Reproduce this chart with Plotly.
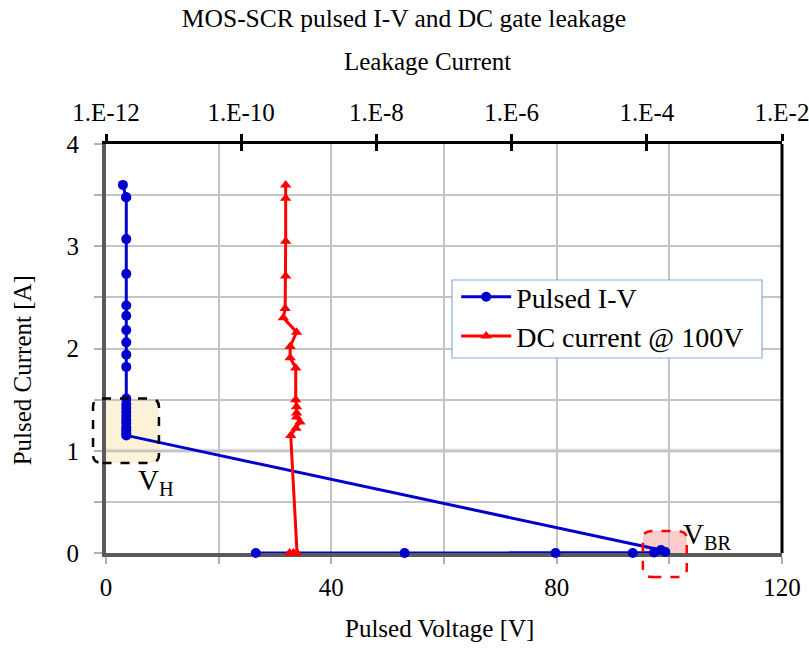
import plotly.graph_objects as go

# ---- data ----------------------------------------------------------------
# Pulsed I-V sweep (voltage in V, current in A)
pulsed_v = [26.6, 53.0, 79.8, 93.5, 97.3, 99.3, 98.5,
            3.6, 3.6, 3.6, 3.6, 3.6, 3.6, 3.6, 3.6, 3.6, 3.6, 3.6,
            3.6, 3.6, 3.6, 3.6, 3.6, 3.6, 3.6, 3.6, 3.6, 3.55, 3.0]
pulsed_i = [0.0, 0.0, 0.0, 0.0, 0.005, 0.01, 0.03,
            1.15, 1.17, 1.20, 1.23, 1.27, 1.30, 1.34, 1.38, 1.42, 1.46, 1.51,
            1.82, 1.94, 2.06, 2.18, 2.32, 2.42, 2.73, 3.07, 3.48, 3.48, 3.60]

# DC gate leakage at 100 V (leakage in A) after each pulse (pulsed current in A)
dc_leak = [5.2e-10, 5.9e-10, 6.7e-10, 5.4e-10, 6.45e-10, 7.4e-10, 6.6e-10,
           6.6e-10, 6.6e-10, 6.4e-10, 6.4e-10, 5.3e-10, 5.3e-10, 6.6e-10,
           4.2e-10, 4.47e-10, 4.55e-10, 4.55e-10, 4.55e-10, 4.55e-10]
dc_i = [0.0, 0.0, 0.0, 1.15, 1.22, 1.28, 1.33,
        1.37, 1.43, 1.50, 1.81, 1.91, 2.02, 2.16,
        2.30, 2.39, 2.71, 3.05, 3.47, 3.60]

volt_ticks = [0, 40, 80, 120]
volt_minor = [20, 60, 100]
amp_ticks = [0, 1, 2, 3, 4]
amp_minor = [0.5, 1.5, 2.5, 3.5]
leak_ticks = [1e-12, 1e-10, 1e-8, 1e-6, 1e-4, 1e-2]
leak_labels = ["1.E-12", "1.E-10", "1.E-8", "1.E-6", "1.E-4", "1.E-2"]

# callout boxes: (V0, V1, I0, I1)
vh_box = (-2.3, 9.4, 0.88, 1.51)
vbr_box = (95.3, 103.1, -0.235, 0.215)

X_RANGE = [0, 120]
Y_RANGE = [0, 4]
LEAK_RANGE = [-12, -2]

FONT = "Liberation Serif"
BLUE = "#0000CD"
RED = "#FF0000"
GRID = "#c4c4c4"
AXIS_GRAY = "#595959"
TICK_GRAY = "#b0b0b0"

fig = go.Figure()

fig.add_trace(go.Scatter(
    x=pulsed_v, y=pulsed_i, mode="lines+markers", name="Pulsed I-V",
    line=dict(color=BLUE, width=3),
    marker=dict(symbol="circle", size=10, color=BLUE),
    cliponaxis=False, legendgroup="a",
))
fig.add_trace(go.Scatter(
    x=dc_leak, y=dc_i, mode="lines+markers", name="DC current @ 100V",
    xaxis="x2", line=dict(color=RED, width=3),
    marker=dict(symbol="triangle-up", size=10, color=RED),
    cliponaxis=False, legendgroup="b",
))
# carrier for the inward half of the top-axis ticks
fig.add_trace(go.Scatter(x=[], y=[], xaxis="x3", showlegend=False))


def dom_x(v):
    return (v - X_RANGE[0]) / (X_RANGE[1] - X_RANGE[0])


def dom_y(a):
    return (a - Y_RANGE[0]) / (Y_RANGE[1] - Y_RANGE[0])


def rounded(x0, x1, y0, y1, rx, ry):
    return (f"M {x0 + rx},{y0} L {x1 - rx},{y0} Q {x1},{y0} {x1},{y0 + ry} "
            f"L {x1},{y1 - ry} Q {x1},{y1} {x1 - rx},{y1} "
            f"L {x0 + rx},{y1} Q {x0},{y1} {x0},{y1 - ry} "
            f"L {x0},{y0 + ry} Q {x0},{y0} {x0 + rx},{y0} Z")


shapes = []
# heavier reference line at 1 A
shapes.append(dict(type="line", xref="x domain", yref="y", x0=0, x1=1, y0=1, y1=1,
                   line=dict(color="#dcdcdc", width=4), layer="below"))

for box, fill, edge in [(vh_box, "rgba(245,222,150,0.38)", "black"),
                        (vbr_box, "rgba(255,0,0,0.2)", RED)]:
    v0, v1, i0, i1 = box
    # tinted interior, clipped to the plotting area
    rv = 1.4 * (X_RANGE[1] - X_RANGE[0]) / 100
    ri = 2.0 * (Y_RANGE[1] - Y_RANGE[0]) / 100
    shapes.append(dict(type="path", xref="x", yref="y",
                       path=rounded(v0, v1, i0, i1, rv, ri),
                       fillcolor=fill, line=dict(width=0), layer="below"))
    # dashed outline, drawn unclipped
    shapes.append(dict(type="path", xref="x domain", yref="y domain",
                       path=rounded(dom_x(v0), dom_x(v1), dom_y(i0), dom_y(i1), 0.014, 0.02),
                       line=dict(color=edge, width=2.5, dash="dash"), layer="above"))

# right-hand frame line
shapes.append(dict(type="line", xref="x domain", yref="y domain", x0=1, x1=1, y0=0, y1=1,
                   line=dict(color="black", width=3), layer="above"))

# legend frame (white panel with a thin blue-grey border)
shapes.append(dict(type="rect", xref="paper", yref="paper",
                   x0=0.5118, x1=0.9704, y0=0.4768, y1=0.6675,
                   fillcolor="white", line=dict(color="#8faadc", width=1.2), layer="above"))

annotations = [
    dict(text="Leakage Current", xref="paper", yref="paper", x=0.476, y=1.2005,
         showarrow=False, xanchor="center", yanchor="middle", font=dict(size=25)),
    dict(text="Pulsed Voltage [V]", xref="paper", yref="paper", x=0.494, y=-0.1834,
         showarrow=False, xanchor="center", yanchor="middle", font=dict(size=25)),
    dict(text="Pulsed Current [A]", xref="paper", yref="paper", x=-0.124, y=0.447,
         showarrow=False, xanchor="center", yanchor="middle", textangle=-90,
         font=dict(size=25)),
    dict(text="V<sub>H</sub>", xref="x", yref="y", x=5.3, y=0.69,
         showarrow=False, xanchor="left", yanchor="middle", font=dict(size=29)),
    dict(text="V<sub>BR</sub>", xref="x", yref="y", x=102.1, y=0.17,
         showarrow=False, xanchor="left", yanchor="middle", font=dict(size=29)),
]

fig.update_layout(
    width=809, height=648,
    margin=dict(l=106, r=27, t=144, b=95, autoexpand=False),
    paper_bgcolor="white", plot_bgcolor="white",
    font=dict(family=FONT, color="black", size=25),
    title=dict(text="MOS-SCR pulsed I-V and DC gate leakage", x=0.4994, y=0.972,
               xanchor="center", yanchor="middle", font=dict(size=25.5)),
    xaxis=dict(range=X_RANGE, tickvals=volt_ticks, automargin=False,
               ticklabeloverflow="allow",
               showgrid=True, gridcolor=GRID, gridwidth=2,
               showline=True, linecolor=AXIS_GRAY, linewidth=4,
               ticks="outside", ticklen=7, tickwidth=2, tickcolor=TICK_GRAY,
               minor=dict(tickvals=volt_minor, ticks="outside", ticklen=7, tickwidth=2,
                          tickcolor=TICK_GRAY, showgrid=True, gridcolor=GRID, gridwidth=2),
               zeroline=False, layer="below traces", ticklabelstandoff=2),
    yaxis=dict(range=Y_RANGE, tickvals=amp_ticks, automargin=False,
               showgrid=True, gridcolor=GRID, gridwidth=2,
               showline=True, linecolor=AXIS_GRAY, linewidth=4,
               ticks="outside", ticklen=8, tickwidth=2, tickcolor=TICK_GRAY,
               minor=dict(tickvals=amp_minor, ticks="outside", ticklen=8, tickwidth=2,
                          tickcolor=TICK_GRAY, showgrid=True, gridcolor=GRID, gridwidth=2),
               zeroline=False, layer="below traces", ticklabelstandoff=10),
    xaxis2=dict(type="log", range=LEAK_RANGE, overlaying="x", side="top", anchor="y",
                tickvals=leak_ticks, ticktext=leak_labels, showgrid=False, automargin=False,
                ticklabeloverflow="allow",
                showline=True, linecolor="black", linewidth=3,
                ticks="outside", ticklen=7, tickwidth=3, tickcolor="black",
                zeroline=False, ticklabelstandoff=3),
    xaxis3=dict(type="log", range=LEAK_RANGE, overlaying="x", side="top", anchor="y",
                tickvals=leak_ticks, showticklabels=False, showgrid=False, automargin=False,
                showline=False, ticks="inside", ticklen=7, tickwidth=3,
                tickcolor="black", zeroline=False),
    legend=dict(x=0.518, y=0.687, xanchor="left", yanchor="top",
                bgcolor="rgba(0,0,0,0)", borderwidth=0,
                font=dict(size=28), traceorder="grouped", tracegroupgap=0,
                itemwidth=50),
    shapes=shapes,
    annotations=annotations,
)

fig.write_html("out.html")
